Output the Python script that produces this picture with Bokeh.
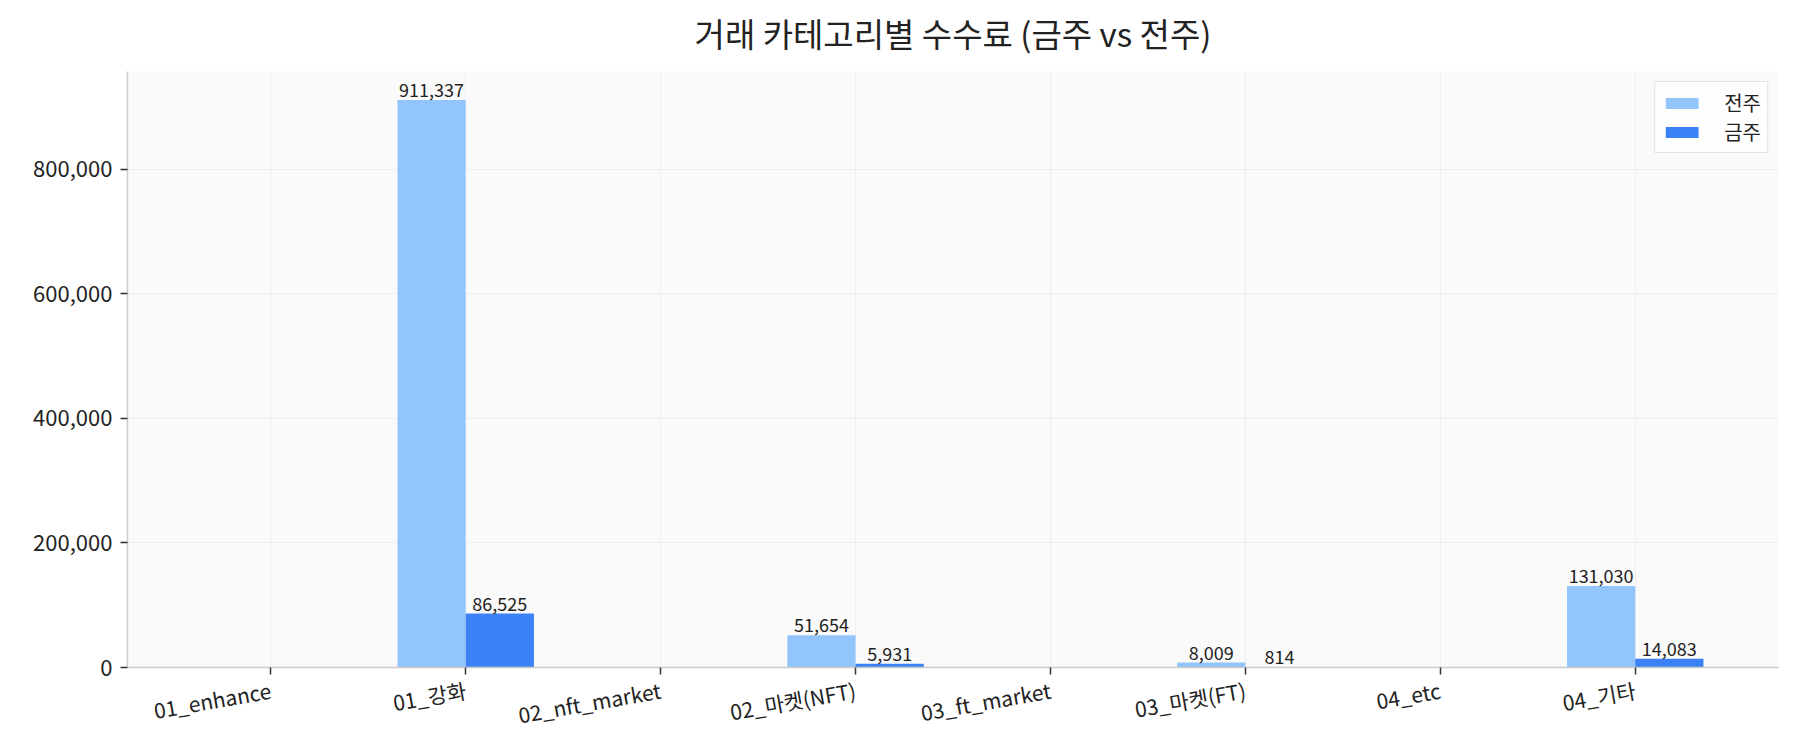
from bokeh.plotting import figure
from bokeh.models import (ColumnDataSource, Range1d, FixedTicker, NumeralTickFormatter,
                          LabelSet, Title, Legend, LegendItem)
from bokeh.core.properties import value
from bokeh.embed import file_html
from bokeh.resources import INLINE
import math

title_text = "거래 카테고리별 수수료 (금주 vs 전주)"
categories = ["01_enhance", "01_강화", "02_nft_market", "02_마켓(NFT)",
              "03_ft_market", "03_마켓(FT)", "04_etc", "04_기타"]
prev_week = [math.nan, 911337, math.nan, 51654, math.nan, 8009, math.nan, 131030]
this_week = [math.nan, 86525, math.nan, 5931, math.nan, 814, math.nan, 14083]
y_ticks = [0, 200000, 400000, 600000, 800000]
series_names = ["전주", "금주"]
colors = ["#93c5fd", "#3b82f6"]

FONT = "Noto Sans CJK KR"
bar_w = 0.35
n = len(categories)
xs = list(range(n))
ymax = max(v for v in prev_week + this_week if not math.isnan(v)) * 1.05
span = (n - 1) + 2 * bar_w
x_lo = -bar_w - 0.05 * span
x_hi = (n - 1) + bar_w + 0.05 * span

p = figure(width=1784, height=750, output_backend="svg", toolbar_location=None,
           x_range=Range1d(x_lo, x_hi), y_range=Range1d(0, ymax),
           min_border_left=127, min_border_right=6, min_border_top=71, min_border_bottom=83)

p.background_fill_color = "#fafafa"
p.border_fill_color = "white"
p.outline_line_color = None

# spacer (closest to the frame) then the real title above it
p.add_layout(Title(text=" ", text_font_size="1px", standoff=12), "above")
p.add_layout(Title(text=title_text, align="center", text_font=FONT, text_font_size="33px",
                   text_font_style="normal", text_color="#222222", standoff=0), "above")

src_prev = ColumnDataSource(dict(x=[x - bar_w / 2 for x in xs], top=prev_week,
                                 label=["" if math.isnan(v) else f"{int(v):,}" for v in prev_week]))
src_curr = ColumnDataSource(dict(x=[x + bar_w / 2 for x in xs], top=this_week,
                                 label=["" if math.isnan(v) else f"{int(v):,}" for v in this_week]))

r_prev = p.vbar(x="x", top="top", bottom=0, width=bar_w, source=src_prev,
                fill_color=colors[0], line_color=None)
r_curr = p.vbar(x="x", top="top", bottom=0, width=bar_w, source=src_curr,
                fill_color=colors[1], line_color=None)

for src in (src_prev, src_curr):
    lab_src = ColumnDataSource(dict(
        x=[x for x, t in zip(src.data["x"], src.data["top"]) if not math.isnan(t)],
        y=[t for t in src.data["top"] if not math.isnan(t)],
        label=[l for l, t in zip(src.data["label"], src.data["top"]) if not math.isnan(t)]))
    p.add_layout(LabelSet(x="x", y="y", text="label", source=lab_src, text_align="center",
                          text_baseline="alphabetic", y_offset=3, text_font=value(FONT),
                          text_font_size=value("18px"), text_color="#222222"))

# axes
p.xaxis.ticker = FixedTicker(ticks=xs)
p.xaxis.major_label_overrides = {i: c for i, c in enumerate(categories)}
p.xaxis.major_label_orientation = math.radians(10)
p.yaxis.ticker = FixedTicker(ticks=y_ticks)
p.yaxis.formatter = NumeralTickFormatter(format="0,0")

for ax in (p.xaxis, p.yaxis):
    ax.axis_line_color = "#cccccc"
    ax.axis_line_width = 1.5
    ax.major_tick_line_color = "#333333"
    ax.major_tick_line_width = 1.5
    ax.major_tick_out = 7
    ax.major_tick_in = 0
    ax.minor_tick_line_color = None
    ax.major_label_text_font = FONT
    ax.major_label_text_color = "#222222"
p.xaxis.major_label_text_font_size = "21px"
p.yaxis.major_label_text_font_size = "22px"
p.xaxis.major_label_standoff = 15
p.yaxis.major_label_standoff = 8

p.xgrid.ticker = FixedTicker(ticks=xs)
p.grid.grid_line_color = "#eeeeee"
p.grid.grid_line_width = 1

legend = Legend(items=[LegendItem(label=series_names[0], renderers=[r_prev]),
                       LegendItem(label=series_names[1], renderers=[r_curr])],
                location="top_right")
legend.margin = 10
legend.padding = 6
legend.spacing = 0
legend.glyph_width = 41
legend.glyph_height = 14
legend.label_height = 20
legend.label_standoff = 22
legend.label_text_font = FONT
legend.label_text_font_size = "20px"
legend.label_text_color = "#222222"
legend.border_line_color = "#cccccc"
legend.border_line_width = 1.5
legend.background_fill_color = "white"
legend.background_fill_alpha = 0.8
p.add_layout(legend)

open("out.html", "w").write(file_html(p, INLINE))
